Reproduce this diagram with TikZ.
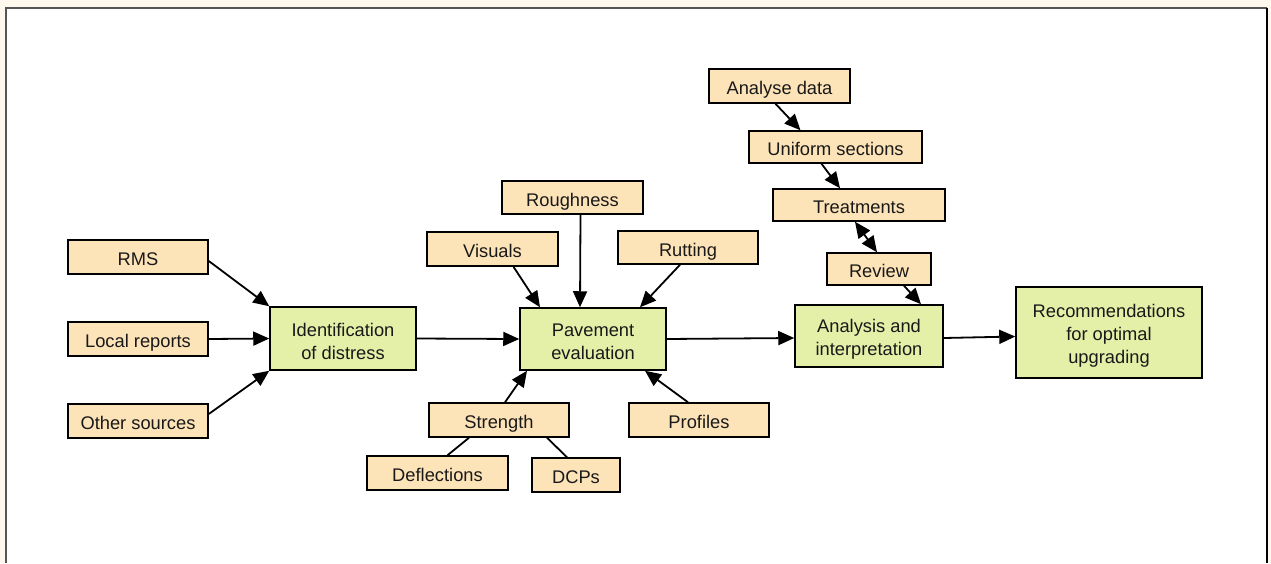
\documentclass[tikz,border=0pt]{standalone}
\usepackage{fontspec}
\setmainfont{Liberation Sans}
\usetikzlibrary{arrows.meta,calc}
\definecolor{cream}{HTML}{FFF8EC}
\definecolor{peach}{HTML}{FDE3B8}
\definecolor{lgreen}{HTML}{E4F0A8}
\definecolor{framegray}{HTML}{555555}
\newcommand\mytstrut{\rule{0pt}{19pt}}
\begin{document}
\begin{tikzpicture}[x=1pt,y=-1pt,
  box/.style={draw=black,line width=1.5pt,anchor=center,inner sep=0pt,align=center,
    font=\fontsize{18.3}{23}\selectfont,text=black!90},
  ob/.style={box,fill=peach,text height=17pt,text depth=0pt},
  gb/.style={box,fill=lgreen},
  arr/.style={line width=1.8pt,-{Triangle[length=16pt,width=14pt]}},
  darr/.style={line width=1.8pt,{Triangle[length=16pt,width=14pt]}-{Triangle[length=16pt,width=14pt]}},
  ln/.style={line width=1.8pt}]
\useasboundingbox (0,0) rectangle (1271,563);
\fill[cream] (0,0) rectangle (1271,563);
\fill[white] (6,7.5) rectangle (1267,563);
\draw[framegray,line width=2pt] (6,563) -- (6,7.5) -- (1267,7.5);
\draw[black,line width=2pt] (1267,7.5) -- (1267,563);

% nodes
\node[ob,minimum width=140pt,minimum height=34pt] (rms) at (138,257) {RMS};
\node[ob,minimum width=140pt,minimum height=34pt] (loc) at (138,339) {Local reports};
\node[ob,minimum width=140pt,minimum height=34pt] (oth) at (138,421) {Other sources};
\node[gb,minimum width=146pt,minimum height=63pt] (idd) at (343,338.5) {\mytstrut Identification\\of distress};
\node[ob,minimum width=131pt,minimum height=34pt] (vis) at (492.5,249) {Visuals};
\node[ob,minimum width=141pt,minimum height=33pt] (rou) at (572.5,197.5) {Roughness};
\node[ob,minimum width=140pt,minimum height=33pt] (rut) at (688,247.5) {Rutting};
\node[gb,minimum width=146pt,minimum height=62pt] (pav) at (593,339) {\mytstrut Pavement\\evaluation};
\node[ob,minimum width=140pt,minimum height=34pt] (str) at (499,420) {Strength};
\node[ob,minimum width=140pt,minimum height=34pt] (pro) at (699,420) {Profiles};
\node[ob,minimum width=141pt,minimum height=34pt] (def) at (437.5,473) {Deflections};
\node[ob,minimum width=88pt,minimum height=34pt] (dcp) at (576,475) {DCPs};
\node[ob,minimum width=141pt,minimum height=34pt] (ana) at (779.5,86) {Analyse data};
\node[ob,minimum width=173pt,minimum height=32pt] (uni) at (835.5,147) {Uniform sections};
\node[ob,minimum width=172pt,minimum height=32pt] (tre) at (859,205) {Treatments};
\node[ob,minimum width=104pt,minimum height=32pt] (rev) at (879,269) {Review};
\node[gb,minimum width=148pt,minimum height=62pt] (ain) at (869,336) {\mytstrut Analysis and\\interpretation};
\node[gb,minimum width=186pt,minimum height=91pt] (rec) at (1109,332.5) {\mytstrut Recommendations\\for optimal\\upgrading};

% connectors
\draw[arr] ($(rms.east)+(0,4)$) -- (idd.north west);
\draw[arr] (loc.east) -- (idd.west);
\draw[arr] ($(oth.east)+(0,-7)$) -- (idd.south west);
\draw[arr] (idd.east) -- (pav.west);
\draw[arr] ($(vis.south)+(21,0)$) -- ($(pav.north)+(-53,0)$);
\draw[arr] ($(rou.south)+(8,0)$) -- ($(pav.north)+(-13,0)$);
\draw[arr] ($(rut.south)+(-8,0)$) -- ($(pav.north)+(47,0)$);
\draw[arr] ($(str.north)+(6,0)$) -- ($(pav.south)+(-66,0)$);
\draw[arr] ($(pro.north)+(-11,0)$) -- ($(pav.south)+(52,0)$);
\draw[ln] ($(str.south)+(-30,0)$) -- ($(def.north)+(10,0)$);
\draw[ln] ($(str.south)+(48,0)$) -- ($(dcp.north)+(-9,0)$);
\draw[arr] (pav.east) -- ($(ain.west)+(0,2)$);
\draw[arr] ($(ain.east)+(0,2)$) -- ($(rec.west)+(0,4)$);
\draw[arr] ($(ana.south)+(-4,0)$) -- ($(uni.north)+(-35,0)$);
\draw[arr] ($(uni.south)+(-14,0)$) -- ($(tre.north)+(-19,0)$);
\draw[darr] ($(tre.south)+(-4,0)$) -- ($(rev.north)+(-2,0)$);
\draw[arr] ($(rev.south)+(25,0)$) -- ($(ain.north)+(52,0)$);
\end{tikzpicture}
\end{document}
